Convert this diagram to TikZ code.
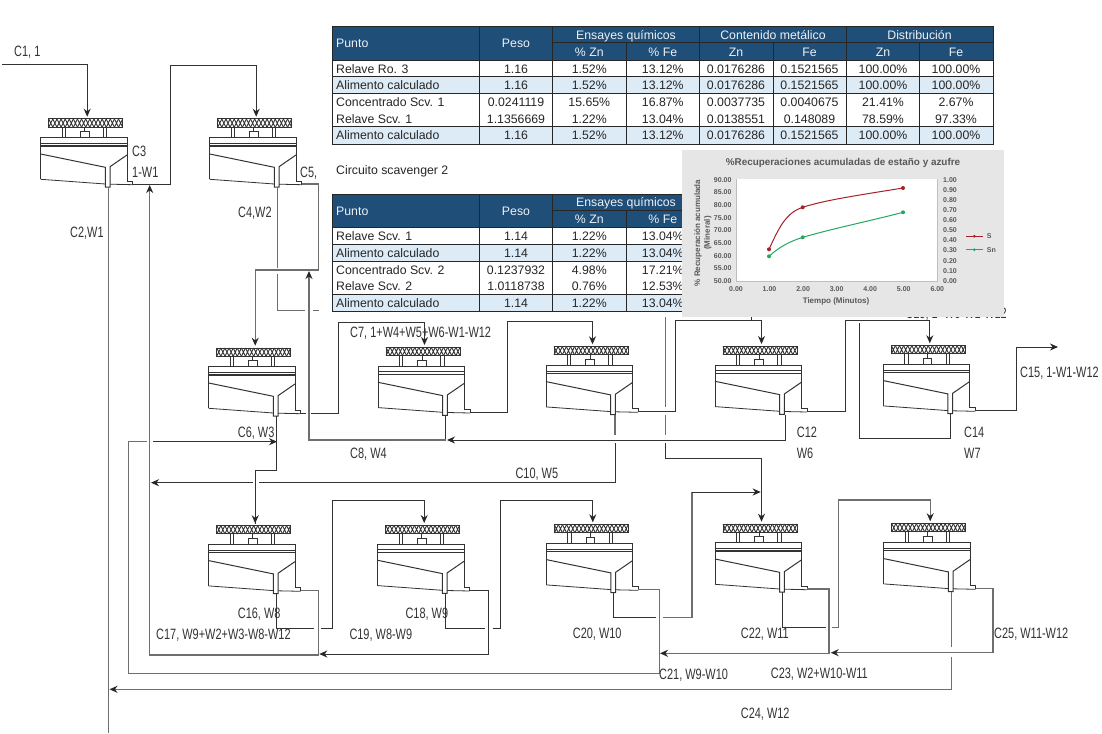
\documentclass[tikz,border=0pt]{standalone}
\usepackage{fontspec}
\setmainfont{Liberation Sans}
\newfontfamily\angosta[FakeStretch=0.73]{Liberation Sans}
\usetikzlibrary{arrows.meta}
\definecolor{tinta}{HTML}{333333}
\definecolor{gris}{HTML}{6E6E6E}
\definecolor{azult}{HTML}{1F4E79}
\definecolor{celeste}{HTML}{DDEBF7}
\definecolor{fondog}{HTML}{E7E6E6}
\definecolor{txtg}{HTML}{595959}
\definecolor{rojos}{HTML}{A8202A}
\definecolor{verdes}{HTML}{22A860}
\tikzset{
  x=1pt,y=-1pt,
  flujo/.style={draw=tinta,line width=1pt},
  flujog/.style={draw=gris,line width=1.2pt},
  punta/.style={-{Stealth[length=8pt,width=7pt,color=black!85]}},
  rotulo/.style={anchor=west,inner sep=0pt,text height=10.7pt,text depth=0pt,text=tinta,font=\angosta\fontsize{15}{17}\selectfont},
  celdat/.style={inner sep=0pt,text height=8.8pt,text depth=0pt,text=black!85,font=\fontsize{12.3}{14}\selectfont},
  cabt/.style={celdat,text=white!92!azult},
  rejilla/.style={draw=black!85,line width=0.8pt},
  trazo/.style={draw=tinta,line width=0.8pt},
  eje/.style={inner sep=0pt,text=txtg,font=\bfseries\fontsize{7}{8}\selectfont},
}
\newcommand\celda[3]{%
\begin{scope}[shift={(#2,#3)}]
  \fill[white] (8,-18.7) rectangle (82,-10.4);
  \foreach \hx in {0,...,17} {\draw[tinta,line width=0.9pt] (8+\hx*4.11,-18.7) -- (8+\hx*4.11+4.11,-10.4) (8+\hx*4.11,-10.4) -- (8+\hx*4.11+4.11,-18.7);}
  \draw[tinta,line width=1pt] (8,-18.7) rectangle (82,-10.4);
  \draw[trazo] (21.3,-10.4) -- (21.3,0) (24.6,-10.4) -- (24.6,0) (62.6,-10.4) -- (62.6,0) (66,-10.4) -- (66,0);
  \draw[trazo] (39.6,0) rectangle (48.3,-6) (44,-6) -- (44,-10.4);
  \draw[trazo] (0,41.6) -- (0,0) -- (86.3,0) -- (86.3,43.3) -- (92,43.3) -- (92,47);
  \draw[trazo] (0,5.6) -- (86.3,5.6);
  \draw[tinta,line width=1.3pt] (0,8.2) -- (86.3,8.2);
  \draw[tinta,line width=1pt] (0,16.3) -- (64.6,29.6) -- (64.6,49.3) -- (69.3,49.3) -- (69.3,29) -- (86.3,17.3);
  \draw[trazo] (0,41.6) -- (64.6,46.3) (69.3,46.5) -- (92,47);
  \coordinate (#1e) at (46.5,-21);
  \coordinate (#1c) at (92,46.3);
  \coordinate (#1r) at (67.6,49.3);
\end{scope}}
\newcommand\fila[3]{%
  \foreach \ctxt [count=\ci] in {#3} {%
    \pgfmathsetmacro\cxx{{336,516,589.3,662.8,736,809.5,883,956}[\ci-1]}%
    \ifnum\ci=1 \node[celdat,anchor=west] (#1t\ci) at (\cxx,#2) {\ctxt};%
    \else \node[celdat] (#1t\ci) at (\cxx,#2) {\ctxt};\fi
  }}
\newcommand\marco[3]{%
\begin{scope}[shift={(0,#2)}]
  \fill[azult] (332.7,0) rectangle (#3,33.3);
  \fill[white] (332.7,33.3) rectangle (#3,117.3);
  \fill[celeste] (332.7,50) rectangle (#3,66.7) (332.7,100) rectangle (#3,117.3);
  \draw[rejilla] (332.7,0) rectangle (#3,117.3);
  \draw[rejilla] (332.7,33.3) -- (#3,33.3) (332.7,50) -- (#3,50) (332.7,66.7) -- (#3,66.7) (332.7,100) -- (#3,100) (552.7,16) -- (#3,16);
  \draw[rejilla] (479.3,0) -- (479.3,117.3) (552.7,0) -- (552.7,117.3) (626,16) -- (626,117.3);
  \node[cabt,anchor=west] (#1p) at (336,16.7) {Punto};
  \node[cabt] (#1q) at (516,16.7) {Peso};
  \node[cabt] (#1e) at (626,8) {Ensayes químicos};
  \node[cabt] (#1z) at (589.3,25) {\% Zn};
  \node[cabt] (#1f) at (662.8,25) {\% Fe};
\end{scope}}
\begin{document}
\begin{tikzpicture}
\useasboundingbox (0,0) rectangle (1102,733);
\fill[white] (0,0) rectangle (1102,733);
% celdas
\celda{c1}{40.7}{137.7}
\celda{c2}{209.7}{137.7}
\celda{c3}{208.7}{366.7}
\celda{c4}{378}{366}
\celda{c5}{546}{365.3}
\celda{c6}{715}{365}
\celda{c7}{883.3}{364.3}
\celda{c8}{208.7}{544.3}
\celda{c9}{377.7}{544}
\celda{c10}{546.3}{543.3}
\celda{c11}{715}{542.7}
\celda{c12}{883.7}{542.3}
\coordinate (ini) at (2,64.3);
\coordinate (fin) at (c1r |- {0,733});
\coordinate (sal) at (1058,347);
\coordinate (c5x) at (615,415);
\coordinate (c6x) at (785,415);
% corrientes
\draw[flujo,punta] (ini) -| (c1e);
\draw[flujo,punta] (c1c) -| (170,65.7) -| (c2e);
\draw[flujog] (c1r) -- (fin);
\draw[flujog,punta] (c2c) -| (318.3,270) -| (c3e);
\draw[flujog] (c2r) -- (c2r |- {0,267.7});
\draw[flujog] (c2r |- {0,274}) |- (305,310.7);
\draw[flujog] (312.7,310.7) -- (318.7,310.7);
\draw[flujo] (c3c) -- (306,413);
\draw[flujo,punta] (310.7,413) -| (338.3,322.3) -| (c4e);
\draw[flujo,punta] (c3r) |- (255.7,470) -- (255.7,523) -| (c8e);
\draw[flujo] (c4r) -- (c4r |- {0,440});
\draw[flujo,punta] (c6x) -- (785,440) -- (447,440);
\draw[flujog,punta] (446,440) -- (309,440) -- (309,271);
\draw[flujo,punta] (c4c) -| (507.3,321.7) -| (c5e);
\draw[flujo,punta] (c5c) -| (675.7,320) -| (c6e);
\draw[flujo,punta] (c6c) -| (845,320) -| (c7e);
\draw[flujo,punta] (c7c) -| (1016.3,347) -- (sal);
\draw[flujo] (c7r) |- (859.3,438.3) -- (859.3,323.3);
\draw[flujog] (c5x) -- (615,435);
\draw[flujo] (615,443) -- (615,482.7) -- (258.5,482.7);
\draw[flujo,punta] (252.5,482.7) -- (151,482.7);
\draw[flujog] (665.7,317) -- (665.7,407);
\draw[flujog] (665.7,415) -- (665.7,435);
\draw[flujo,punta] (665.7,443) -- (665.7,458.3) -| (c11e);
\draw[flujo] (751.7,316) -- (751.7,320);
\draw[flujog,punta] (c8c) -| (318.3,655) -| (149.7,185);
\draw[flujog] (c10c) -| (659.3,673.7) -- (128.3,673.7) -- (128.3,441.7) -- (146.7,441.7);
\draw[flujo,punta] (153,441.7) -- (277,441.7);
\draw[flujo] (c8r) |- (314,628.3);
\draw[flujo,punta] (320.7,628.3) -| (332,500) -| (c9e);
\draw[flujo] (c9r) |- (485,628.3);
\draw[flujo,punta] (492.7,628.3) -| (500,500) -| (c10e);
\draw[flujo,punta] (c9c) -| (488.3,654) -- (319.3,654);
\draw[flujo] (c10r) |- (656,617.3);
\draw[flujog] (662.7,617.3) -| (692,492);
\draw[flujo,punta] (692,492) -- (760.7,492);
\draw[flujo] (c11r) |- (826,627.3);
\draw[flujog,punta] (831.7,627.3) -| (838.7,500) -| (c12e);
\draw[flujog,punta] (c11c) -| (829,653.3) -- (660,653.3);
\draw[flujog,punta] (c12c) -| (993,652.7) -- (830.7,652.7);
\draw[flujog] (c12r) -- (c12r |- {0,647});
\draw[flujog,punta] (c12r |- {0,657}) |- (109.5,689.3);
% rotulos
\node[rotulo] (l1) at (14,50.7) {C1, 1};
\node[rotulo] (l2) at (132,150.7) {C3};
\node[rotulo] (l3) at (132,171.7) {1-W1};
\node[rotulo] (l4) at (300,171.7) {C5,};
\node[rotulo] (l5) at (70,231.7) {C2,W1};
\node[rotulo] (l6) at (238,211.7) {C4,W2};
\node[rotulo] (l7) at (237.7,432.3) {C6, W3};
\node[rotulo] (l8) at (350,331.7) {C7, 1+W4+W5+W6-W1-W12};
\node[rotulo] (l9) at (350,452.7) {C8, W4};
\node[rotulo,anchor=east] (l10) at (558.3,472.7) {C10, W5};
\node[rotulo] (l11) at (796.7,432.3) {C12};
\node[rotulo] (l12) at (796.7,452.7) {W6};
\node[rotulo] (l13) at (964,432.3) {C14};
\node[rotulo] (l14) at (964,452.7) {W7};
\node[rotulo] (l15) at (1020,371.7) {C15, 1-W1-W12};
\node[rotulo] (l16) at (237.7,613.3) {C16, W8};
\node[rotulo] (l17) at (156,634) {C17, W9+W2+W3-W8-W12};
\node[rotulo] (l18) at (405.3,613.3) {C18, W9};
\node[rotulo] (l19) at (349.3,634) {C19, W8-W9};
\node[rotulo] (l20) at (572.7,633.3) {C20, W10};
\node[rotulo] (l21) at (740.7,633.3) {C22, W11};
\node[rotulo] (l22) at (659,673.7) {C21, W9-W10};
\node[rotulo] (l23) at (770.7,673.3) {C23, W2+W10-W11};
\node[rotulo] (l24) at (740.7,713.3) {C24, W12};
\node[rotulo] (l25) at (994,633.3) {C25, W11-W12};
\node[rotulo,anchor=east] (l26) at (1007,313) {C13, 1+W6-W1-W12};
% tabla 1
\marco{ta}{26.7}{993}
\begin{scope}[shift={(0,26.7)}]
  \draw[rejilla] (699.5,0) -- (699.5,117.3) (846,0) -- (846,117.3) (773,16) -- (773,117.3) (919.7,16) -- (919.7,117.3);
  \node[cabt] (ta1) at (773,8) {Contenido metálico};
  \node[cabt] (ta2) at (919.5,8) {Distribución};
  \node[cabt] (ta3) at (736,25) {Zn};
  \node[cabt] (ta4) at (809.5,25) {Fe};
  \node[cabt] (ta5) at (883,25) {Zn};
  \node[cabt] (ta6) at (956,25) {Fe};
\end{scope}
\fila{ua}{68.7}{Relave Ro. 3,1.16,1.52\%,13.12\%,0.0176286,0.1521565,100.00\%,100.00\%}
\fila{ub}{85.3}{Alimento calculado,1.16,1.52\%,13.12\%,0.0176286,0.1521565,100.00\%,100.00\%}
\fila{uc}{102}{Concentrado Scv. 1,0.0241119,15.65\%,16.87\%,0.0037735,0.0040675,21.41\%,2.67\%}
\fila{ud}{118.7}{Relave Scv. 1,1.1356669,1.22\%,13.04\%,0.0138551,0.148089,78.59\%,97.33\%}
\fila{ue}{135.5}{Alimento calculado,1.16,1.52\%,13.12\%,0.0176286,0.1521565,100.00\%,100.00\%}
\node[celdat,anchor=west] (esc) at (336,170) {Circuito scavenger 2};
% tabla 2
\marco{tb}{194.3}{699.5}
\fila{va}{236.5}{Relave Scv. 1,1.14,1.22\%,13.04\%}
\fila{vb}{253}{Alimento calculado,1.14,1.22\%,13.04\%}
\fila{vc}{269.7}{Concentrado Scv. 2,0.1237932,4.98\%,17.21\%}
\fila{vd}{286.3}{Relave Scv. 2,1.0118738,0.76\%,12.53\%}
\fila{ve}{303.2}{Alimento calculado,1.14,1.22\%,13.04\%}
% grafico
\fill[fondog] (681.7,150) rectangle (1004,316.7);
\fill[white] (736,179.3) rectangle (937.3,281);
\draw[black!25,line width=0.5pt] (736,179.3) -- (736,281) -- (937.3,281) -- (937.3,179.3);
\node[inner sep=0pt,text=txtg,font=\bfseries\fontsize{9.9}{11}\selectfont] (gt) at (843,163.3) {\%Recuperaciones acumuladas de estaño y azufre};
\foreach \yv [count=\yi from 0] in {90.00,85.00,80.00,75.00,70.00,65.00,60.00,55.00,50.00}
  \node[eje,anchor=east] (gy\yi) at (731.7,179.7+\yi*12.65) {\yv};
\foreach \yv [count=\yi from 0] in {1.00,0.90,0.80,0.70,0.60,0.50,0.40,0.30,0.20,0.10,0.00}
  \node[eje,anchor=west] (gd\yi) at (943,179.7+\yi*10.12) {\yv};
\foreach \xv [count=\xi from 0] in {0.00,1.00,2.00,3.00,4.00,5.00,6.00}
  \node[eje] (gx\xi) at (736+\xi*33.55,289.3) {\xv};
\node[inner sep=0pt,text=txtg,font=\bfseries\fontsize{8}{9}\selectfont] (gxt) at (836,301) {Tiempo (Minutos)};
\node[inner sep=0pt,text=txtg,rotate=90,font=\bfseries\fontsize{8}{9}\selectfont] (gyt) at (698,233) {\% Recuperación acumulada};
\node[inner sep=0pt,text=txtg,rotate=90,font=\bfseries\fontsize{8}{9}\selectfont] (gyu) at (707.7,233) {(Mineral)};
\coordinate (ra) at (769,249.3);
\coordinate (rb) at (802.7,207.3);
\coordinate (rc) at (903,188);
\coordinate (va) at (769,256.3);
\coordinate (vb) at (802.7,237.3);
\coordinate (vc) at (903,212.3);
\draw[rojos,line width=1pt] (ra) .. controls (778,230) and (785,213) .. (rb) .. controls (825,200) and (860,195) .. (rc);
\draw[verdes,line width=1pt] (va) .. controls (778,248) and (788,242) .. (vb) .. controls (835,228) and (870,221) .. (vc);
\foreach \pn in {ra,rb,rc} \fill[rojos] (\pn) circle (2pt);
\foreach \pn in {va,vb,vc} \fill[verdes] (\pn) circle (2pt);
\coordinate (lra) at (966,236.3); \coordinate (lrb) at (982.7,236.3);
\coordinate (lva) at (966,249.7); \coordinate (lvb) at (982.7,249.7);
\draw[rojos,line width=1pt] (lra) -- (lrb);
\draw[verdes,line width=1pt] (lva) -- (lvb);
\fill[rojos] (974.3,236.3) circle (1.5pt);
\fill[verdes] (974.3,249.7) circle (1.5pt);
\node[eje,anchor=west] (ls) at (986.7,236.3) {S};
\node[eje,anchor=west] (lsn) at (986.7,249.7) {Sn};
\end{tikzpicture}
\end{document}
